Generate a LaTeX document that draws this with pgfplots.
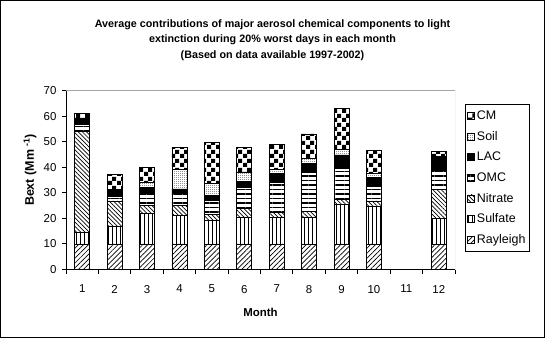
\documentclass[border=0pt]{standalone}
\usepackage{pgfplots}
\usepackage{pgfplotstable}
\pgfplotsset{compat=1.18}
\usetikzlibrary{patterns,patterns.meta}
\usepackage{fontspec}
\setmainfont{Liberation Sans}

\pgfdeclarepatternformonly{bigcheck}{\pgfpointorigin}{\pgfqpoint{9bp}{9bp}}{\pgfqpoint{9bp}{9bp}}{%
  \pgfpathrectangle{\pgfpointorigin}{\pgfqpoint{4.5bp}{4.5bp}}%
  \pgfpathrectangle{\pgfqpoint{4.5bp}{4.5bp}}{\pgfqpoint{4.5bp}{4.5bp}}%
  \pgfusepath{fill}}
\pgfdeclarepatternformonly{finedots}{\pgfpointorigin}{\pgfqpoint{2bp}{2bp}}{\pgfqpoint{2bp}{2bp}}{%
  \pgfpathrectangle{\pgfpointorigin}{\pgfqpoint{1bp}{1bp}}%
  \pgfusepath{fill}}

\pgfplotstableread{
m  R   S    N    O    L    So   C
1  10  4.5  39.7 2.7  1.8  0.2  2.2
2  10  6.7  10.1 1.7  2.6  0.1  6.0
3  10  11.9 3.0  4.9  2.4  1.8  5.9
4  10  11.1 4.1  4.4  1.9  7.6  8.7
5  10  9.3  2.2  5.4  1.9  4.7  16.2
6  10  10.5 3.5  8.2  2.2  3.7  9.7
7  10  10.2 2.1  11.8 3.5  1.4  10.0
8  10  10.4 2.2  15.3 3.7  1.9  9.5
9  10  15.5 2.1  12.0 5.2  2.2  16.0
10 10  14.5 2.3  5.6  3.6  1.6  9.1
12 10  9.8  11.5 7.6  5.2  0.2  2.0
}\data

\begin{document}
\begin{tikzpicture}
\begin{axis}[
  at={(0,0)}, anchor=south west,
  scale only axis, width=389bp, height=179bp,
  ybar stacked, bar width=15bp,
  xmin=0.5, xmax=12.5, ymin=0, ymax=70,
  xtick={1,...,12},
  minor xtick={0.5,1.5,...,12.5},
  ytick={0,10,...,70},
  major x tick style={draw=none},
  tick align=outside,
  axis x line*=bottom, axis y line*=left,
  axis line style={-, line width=0.9bp},
  tick style={black, line width=0.9bp},
  major tick length=4bp, minor tick length=4bp,
  /pgf/number format/assume math mode=true,
  ticklabel style={font=\fontsize{11.5}{13}\selectfont},
  xticklabel style={yshift=-8bp},
  yticklabel style={xshift=-2bp},
  xlabel={\textbf{Month}},
  xlabel style={at={(axis description cs:0.5,-0.2374)}, anchor=center, font=\fontsize{11.5}{13}\selectfont},
  ylabel={\textbf{Bext (Mm \textsuperscript{-1})}},
  ylabel style={at={(axis description cs:-0.0925,0.556)}, anchor=center, font=\fontsize{12.5}{14}\selectfont},
  reverse legend,
  legend image code/.code={\draw[#1, line width=0.6bp] (0bp,-3.5bp) rectangle (7bp,3.5bp);},
  legend style={at={(axis description cs:1.0257,0.9246)}, anchor=north west,
    draw=black, line width=0.8bp, font=\fontsize{12.5}{13}\selectfont,
    row sep=6.3bp, inner xsep=2bp, inner ysep=4.5bp,
    /tikz/every even column/.append style={column sep=1.5bp}},
  legend cell align=left,
  every axis plot/.append style={draw=black, line width=0.8bp},
]
\addplot[pattern={Lines[angle=45,distance=3.5bp,line width=0.7bp]}] table[x=m,y=R]{\data};
\addlegendentry{Rayleigh}
\addplot[pattern={Lines[angle=90,distance=4bp,line width=1bp]}] table[x=m,y=S]{\data};
\addlegendentry{Sulfate}
\addplot[pattern={Lines[angle=-45,distance=3bp,line width=0.7bp]}] table[x=m,y=N]{\data};
\addlegendentry{Nitrate}
\addplot[pattern={Lines[angle=0,distance=4.5bp,line width=1.1bp]}] table[x=m,y=O]{\data};
\addlegendentry{OMC}
\addplot[fill=black] table[x=m,y=L]{\data};
\addlegendentry{LAC}
\addplot[pattern=finedots] table[x=m,y=So]{\data};
\addlegendentry{Soil}
\addplot[pattern=bigcheck] table[x=m,y=C]{\data};
\addlegendentry{CM}
\draw[gray!70, line width=1bp] (rel axis cs:0,1) -- (rel axis cs:1,1) -- (rel axis cs:1,0);
\end{axis}
\node[align=center, font=\bfseries\fontsize{10.8}{15.5}\selectfont] at (206.5bp,229.5bp)
  {Average contributions of major aerosol chemical components to light\\
   extinction during 20\% worst days in each month\\
   (Based on data available 1997-2002)};
\draw[line width=1bp] (-65.5bp,-68bp) rectangle (478.5bp,269bp);
\end{tikzpicture}
\end{document}
